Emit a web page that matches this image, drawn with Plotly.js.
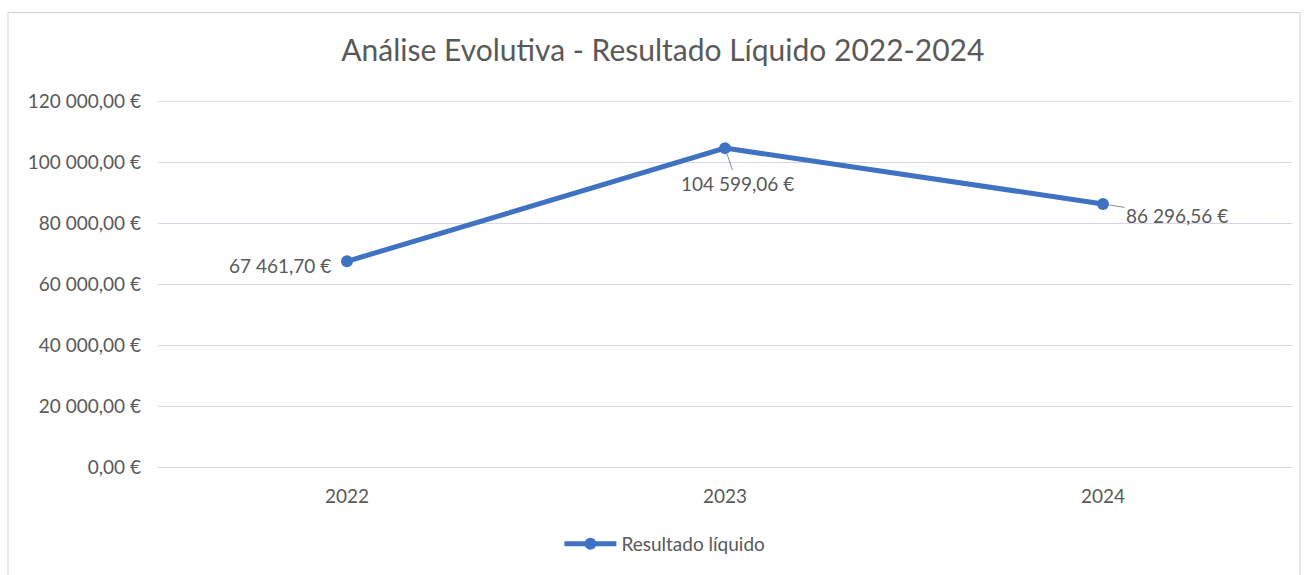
<!DOCTYPE html>
<html>
<head>
<meta charset="utf-8">
<script src="https://cdn.plot.ly/plotly-3.0.1.min.js"></script>
<style>
html,body{margin:0;padding:0;background:#fff;}
#chart{width:1310px;height:575px;}
</style>
</head>
<body>
<div id="chart"></div>
<script>
const years = ["2022", "2023", "2024"];
const resultado = [67461.70, 104599.06, 86296.56];
const valueLabels = ["67 461,70 €", "104 599,06 €", "86 296,56 €"];
const yTickVals = [0, 20000, 40000, 60000, 80000, 100000, 120000];
const yTickText = ["0,00 €", "20 000,00 €", "40 000,00 €", "60 000,00 €", "80 000,00 €", "100 000,00 €", "120 000,00 €"];

const FONT = "Lato, 'Open Sans', sans-serif";
const TXT = "#595959";
const BLUE = "#3F72C2";
const GRID = "#d6d6e4";

const trace = {
  x: years,
  y: resultado,
  type: "scatter",
  mode: "lines+markers",
  name: "Resultado líquido",
  line: {color: BLUE, width: 5},
  marker: {color: BLUE, size: 12, symbol: "circle"},
  hoverinfo: "x+y"
};

const labelStyle = [
  {arrow: false, xanchor: "right", yanchor: "middle", xshift: -14, yshift: -4},
  {arrow: true, ax: 12, ay: 35},
  {arrow: true, ax: 74, ay: 12}
];

const annotations = years.map((yr, i) => {
  const o = labelStyle[i];
  const a = {
    x: i, y: resultado[i], xref: "x", yref: "y",
    text: valueLabels[i],
    font: {family: FONT, size: 19, color: TXT},
    showarrow: o.arrow
  };
  if (o.arrow) {
    a.ax = o.ax; a.ay = o.ay;
    a.arrowhead = 0; a.arrowwidth = 1; a.arrowcolor = "#8c8c8c";
    a.standoff = 5;
  } else {
    a.xanchor = o.xanchor; a.yanchor = o.yanchor;
    a.xshift = o.xshift; a.yshift = o.yshift;
  }
  return a;
});

const topTick = yTickVals[yTickVals.length - 1];

const layout = {
  width: 1310, height: 575,
  margin: {l: 158, r: 18, t: 101, b: 106},
  paper_bgcolor: "#ffffff",
  plot_bgcolor: "#ffffff",
  font: {family: FONT, color: TXT, size: 19},
  title: {
    text: "Análise Evolutiva - Resultado Líquido 2022-2024",
    font: {family: FONT, size: 30, color: TXT},
    x: 0.506, xanchor: "center", xref: "container",
    y: 0.913, yanchor: "middle", yref: "container"
  },
  xaxis: {
    type: "category",
    showgrid: false, zeroline: false, showline: false,
    ticks: "", ticklabelstandoff: 16,
    tickfont: {family: FONT, size: 19, color: TXT},
    range: [-0.5, 2.5]
  },
  yaxis: {
    range: [0, 120060],
    tickvals: yTickVals, ticktext: yTickText,
    showgrid: true, gridcolor: GRID, gridwidth: 1,
    zeroline: true, zerolinecolor: GRID, zerolinewidth: 1,
    showline: false, ticks: "", ticklabelstandoff: 16,
    tickfont: {family: FONT, size: 19, color: TXT}
  },
  showlegend: true,
  legend: {
    orientation: "h",
    x: 0.447, xanchor: "center",
    y: -0.21, yanchor: "middle",
    itemwidth: 52,
    font: {family: FONT, size: 19, color: TXT},
    bgcolor: "rgba(0,0,0,0)"
  },
  shapes: [
    {
      type: "rect", xref: "paper", yref: "paper",
      x0: -0.1323, x1: 1.0071, y0: -0.6, y1: 1.2418,
      line: {color: "#d0d0dc", width: 1}, fillcolor: "rgba(0,0,0,0)", layer: "below"
    },
    {
      type: "line", xref: "paper", yref: "y",
      x0: 0, x1: 1, y0: topTick, y1: topTick,
      line: {color: GRID, width: 1}, layer: "below"
    }
  ],
  annotations: annotations
};

Plotly.newPlot("chart", [trace], layout, {displayModeBar: false, staticPlot: true});
</script>
</body>
</html>
